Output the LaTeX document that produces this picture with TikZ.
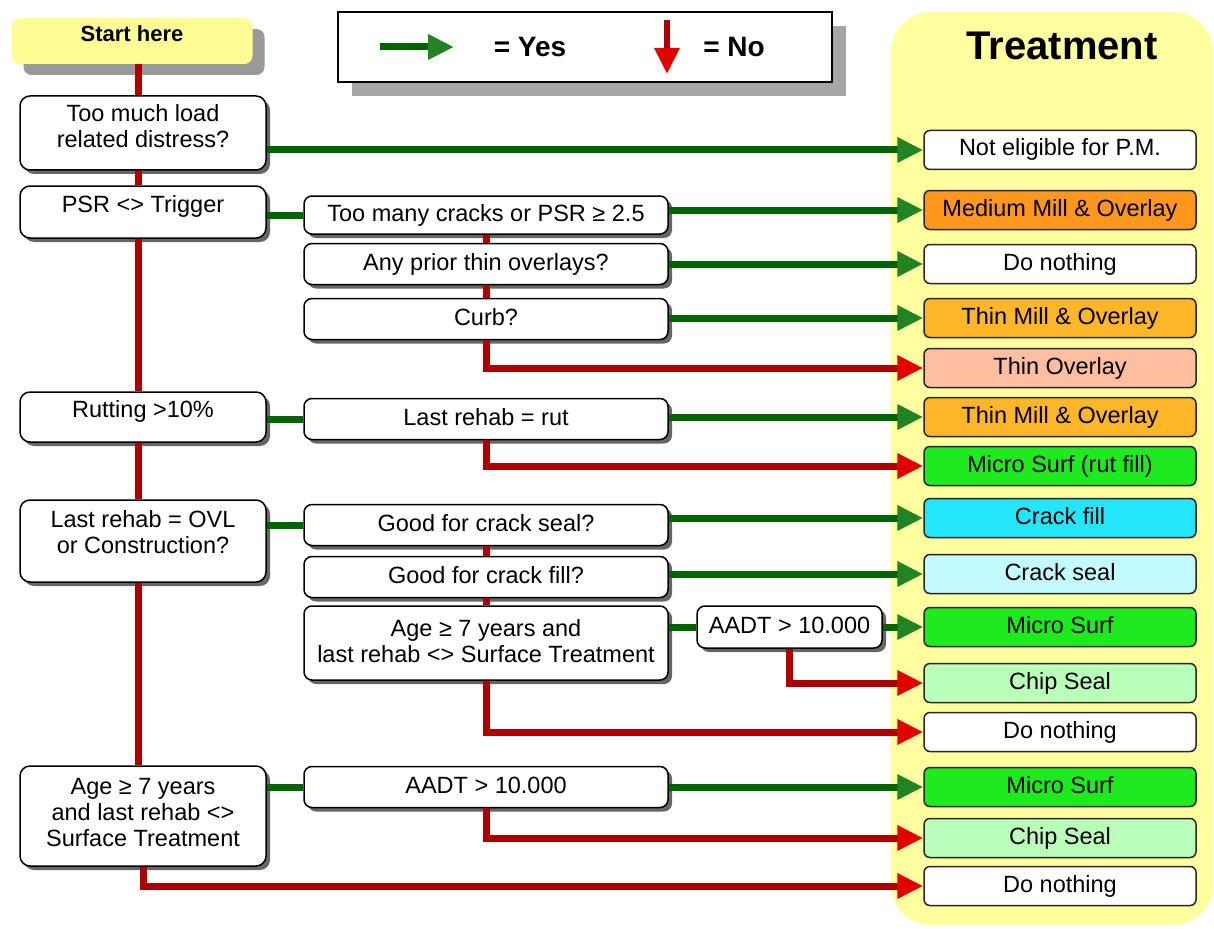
\documentclass[tikz,border=0pt]{standalone}
\usepackage{fontspec}
\setmainfont{Liberation Sans}
\usetikzlibrary{arrows.meta,shadows}
\definecolor{yesline}{RGB}{0,100,0}
\definecolor{yeshead}{RGB}{35,130,35}
\definecolor{noline}{RGB}{175,0,0}
\definecolor{nohead}{RGB}{225,0,0}
\definecolor{panelyellow}{RGB}{255,255,160}
\definecolor{startyellow}{RGB}{255,252,150}
\definecolor{mediumorange}{RGB}{255,150,30}
\definecolor{thinorange}{RGB}{255,182,40}
\definecolor{salmon}{RGB}{255,190,160}
\definecolor{microgreen}{RGB}{30,235,30}
\definecolor{crackcyan}{RGB}{35,230,250}
\definecolor{lightcyan}{RGB}{195,250,255}
\definecolor{chipgreen}{RGB}{185,255,185}
\begin{document}
\begin{tikzpicture}[x=1pt,y=-1pt,
  font=\fontsize{23.5}{26}\selectfont,
  every node/.style={inner sep=0pt},
  shbox/.style={draw=black, line width=1.5pt, fill=white, align=center,
    text height=17pt, text depth=5pt,
    drop shadow={shadow xshift=4pt, shadow yshift=-4pt, fill=black!60, opacity=1}},
  lbox/.style={shbox, rounded corners=10pt, minimum width=246pt},
  mbox/.style={shbox, rounded corners=8pt, minimum width=364pt, minimum height=41pt},
  tbox/.style={draw=black!85, line width=1.5pt, rounded corners=6pt,
    minimum width=272pt, minimum height=39pt, text height=17pt, text depth=5pt, fill=#1},
  tbox/.default=white,
  gl/.style={draw=yesline, line width=7pt},
  nl/.style={draw=noline, line width=7pt},
  yes/.style={gl, -{Triangle[length=26pt,width=24pt,color=yeshead]}},
  no/.style={nl, -{Triangle[length=26pt,width=24pt,color=nohead]}}
]
\useasboundingbox (0,0) rectangle (1214,928);

% treatment panel
\fill[panelyellow, rounded corners=40pt] (891,12) rectangle (1213,925);
\node[font=\fontsize{40}{44}\selectfont\bfseries] (title) at (1062,46) {Treatment};

% start and legend
\node[fill=startyellow, rounded corners=8pt, minimum width=241pt, minimum height=46pt,
  font=\fontsize{22}{24}\selectfont\bfseries, text height=16pt, text depth=14pt,
  drop shadow={shadow xshift=12pt, shadow yshift=-11pt, fill=black!40, opacity=1}]
  (start) at (132,41) {Start here};
\node[draw=black, line width=2pt, fill=white, minimum width=494pt, minimum height=70pt,
  drop shadow={shadow xshift=14pt, shadow yshift=-14pt, fill=black!35, opacity=1}]
  (legend) at (585,47) {};
\coordinate (ya) at (380,47);
\coordinate (yb) at (454,47);
\coordinate (na) at (667,20);
\coordinate (nb) at (667,74);
\draw[yes] (ya) -- (yb);
\draw[no, line width=6pt] (na) -- (nb);
\node[font=\fontsize{28}{30}\selectfont\bfseries] (yeslbl) at (530,47) {= Yes};
\node[font=\fontsize{28}{30}\selectfont\bfseries] (nolbl) at (734,47) {= No};

% left column
\node[lbox, minimum height=74pt, text height=43pt, text depth=13pt] (L1) at (143,133) {Too much load\\related distress?};
\node[lbox, minimum height=52pt, text depth=17pt] (L2) at (143,212) {PSR <> Trigger};
\node[lbox, minimum height=50pt, text depth=17pt] (L3) at (143,417) {Rutting >10\%};
\node[lbox, minimum height=82pt, text height=43pt, text depth=18pt] (L4) at (143,541) {Last rehab = OVL\\or Construction?};
\node[lbox, minimum height=100pt, text height=69pt, text depth=8pt] (L5) at (143,816) {Age ≥ 7 years\\and last rehab <>\\Surface Treatment};

% middle column
\node[mbox, minimum height=38pt] (M1) at (486,215) {Too many cracks or PSR ≥ 2.5};
\node[mbox] (M2) at (486,264) {Any prior thin overlays?};
\node[mbox] (M3) at (486,319) {Curb?};
\node[mbox] (M4) at (486,419) {Last rehab = rut};
\node[mbox] (M5) at (486,525) {Good for crack seal?};
\node[mbox] (M6) at (486,577) {Good for crack fill?};
\node[mbox, minimum height=74pt, text height=43pt, text depth=4pt] (M7) at (486,643) {Age ≥ 7 years and\\last rehab <> Surface Treatment};
\node[mbox] (M8) at (486,787) {AADT > 10.000};
\node[shbox, rounded corners=8pt, minimum width=185pt, minimum height=42pt] (A) at (789.5,627) {AADT > 10.000};

% treatment boxes
\node[tbox] (T1) at (1060,150) {Not eligible for P.M.};
\node[tbox=mediumorange] (T2) at (1060,210) {Medium Mill \& Overlay};
\node[tbox] (T3) at (1060,264) {Do nothing};
\node[tbox=thinorange] (T4) at (1060,318) {Thin Mill \& Overlay};
\node[tbox=salmon] (T5) at (1060,368) {Thin Overlay};
\node[tbox=thinorange] (T6) at (1060,417) {Thin Mill \& Overlay};
\node[tbox=microgreen] (T7) at (1060,466) {Micro Surf (rut fill)};
\node[tbox=crackcyan] (T8) at (1060,518) {Crack fill};
\node[tbox=lightcyan] (T9) at (1060,574) {Crack seal};
\node[tbox=microgreen] (T10) at (1060,627) {Micro Surf};
\node[tbox=chipgreen] (T11) at (1060,683) {Chip Seal};
\node[tbox] (T12) at (1060,732) {Do nothing};
\node[tbox=microgreen] (T13) at (1060,787) {Micro Surf};
\node[tbox=chipgreen] (T14) at (1060,838) {Chip Seal};
\node[tbox] (T15) at (1060,886) {Do nothing};

% main "no" spine
\coordinate (spine) at (138,0);
\draw[nl] (spine |- start.south) -- (spine |- L1.north);
\draw[nl] (spine |- L1.south) -- (spine |- L2.north);
\draw[nl] (spine |- L2.south) -- (spine |- L3.north);
\draw[nl] (spine |- L3.south) -- (spine |- L4.north);
\draw[nl] (spine |- L4.south) -- (spine |- L5.north);

% middle "no" links
\draw[nl] (M1.south) -- (M2.north);
\draw[nl] (M2.south) -- (M3.north);
\draw[nl] (M5.south) -- (M6.north);
\draw[nl] (M6.south) -- (M7.north);

% yes connectors
\draw[yes] (L1.east |- T1.west) -- (T1.west);
\draw[gl] (L2.east |- M1.west) -- (M1.west);
\draw[yes] (M1.east |- T2.west) -- (T2.west);
\draw[yes] (M2.east |- T3.west) -- (T3.west);
\draw[yes] (M3.east |- T4.west) -- (T4.west);
\draw[gl] (L3.east |- M4.west) -- (M4.west);
\draw[yes] (M4.east |- T6.west) -- (T6.west);
\draw[gl] (L4.east |- M5.west) -- (M5.west);
\draw[yes] (M5.east |- T8.west) -- (T8.west);
\draw[yes] (M6.east |- T9.west) -- (T9.west);
\draw[gl] (M7.east |- A.west) -- (A.west);
\draw[yes] (A.east |- T10.west) -- (T10.west);
\draw[gl] (L5.east |- M8.west) -- (M8.west);
\draw[yes] (M8.east |- T13.west) -- (T13.west);

% no connectors
\draw[no] (M3.south) |- (T5.west);
\draw[no] (M4.south) |- (T7.west);
\draw[no] (A.south) |- (T11.west);
\draw[no] (M7.south) |- (T12.west);
\draw[no] (M8.south) |- (T14.west);
\draw[no] (L5.south) |- (T15.west);
\end{tikzpicture}
\end{document}
